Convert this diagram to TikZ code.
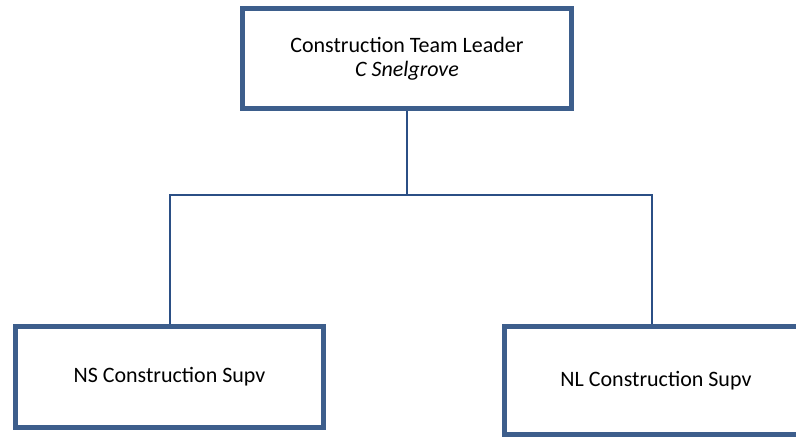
\documentclass[tikz,border=0pt]{standalone}
\usepackage{fontspec}
\setmainfont{Carlito}
\usepackage{xcolor}
\usepackage{tikz}
\definecolor{boxline}{HTML}{3D5E8C}
\definecolor{linkline}{HTML}{2B4F85}
\tikzset{
  post/.style={draw=boxline, line width=5pt, fill=white, align=center,
    font=\fontsize{22}{24}\selectfont},
  link/.style={draw=linkline, line width=2pt},
}

\begin{document}
\begin{tikzpicture}[x=1pt,y=-1pt]
  \useasboundingbox[fill=white] (0,0) rectangle (796,437);

  % boxes
  \node[post, minimum width=329pt, minimum height=100pt] (lead) at (407,58.5)
    {Construction Team Leader\\\textit{C Snelgrove}};
  \node[post, minimum width=308pt, minimum height=101pt] (ns) at (169.5,377)
    {NS Construction Supv};
  \node[post, minimum width=303pt, minimum height=108pt] (nl) at (656,380.5)
    {NL Construction Supv};

  % connectors
  \coordinate (barL) at (170,195);
  \coordinate (barR) at (652,195);
  \draw[link] (lead.south) -- (lead.south |- barL);
  \draw[link] (ns.north -| barL) -- (barL) -- (barR) -- (nl.north -| barR);
\end{tikzpicture}
\end{document}
